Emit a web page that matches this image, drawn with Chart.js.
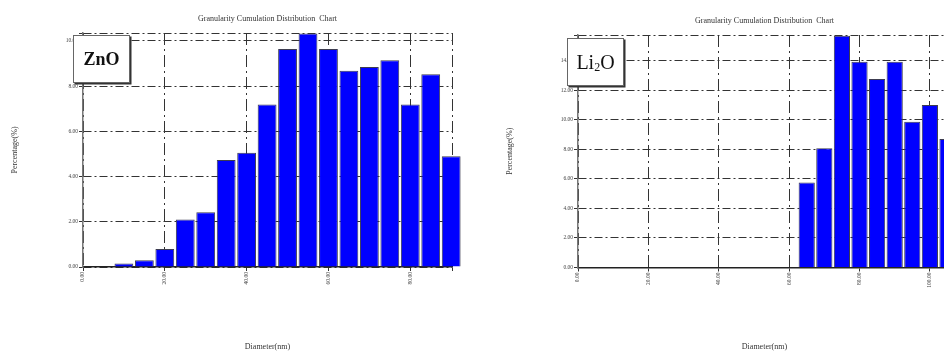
<!DOCTYPE html>
<html>
<head>
<meta charset="utf-8">
<script src="https://cdn.jsdelivr.net/npm/chart.js@4.4.1/dist/chart.umd.min.js"></script>
<style>
  html, body { margin: 0; padding: 0; background: #fff; }
  body { width: 944px; height: 352px; position: relative; overflow: hidden; }
  canvas { position: absolute; top: 0; }
  #znoChart { left: 0; }
  #li2oChart { left: 472px; }
  .tag {
    position: absolute; background: #fff; border: 1px solid #666;
    box-shadow: 1.5px 1.5px 0 #333; box-sizing: border-box;
    width: 57px; height: 48px; line-height: 46px; text-align: center;
    font-family: "Liberation Serif", serif; color: #111; z-index: 2;
  }
  .tag sub { font-size: 60%; vertical-align: -2px; line-height: 0; }
</style>
</head>
<body>
<canvas id="znoChart" width="472" height="352"></canvas>
<canvas id="li2oChart" width="520" height="352"></canvas>
<div class="tag" style="left:73px; top:35px; font-size:18px; font-weight:bold;">ZnO</div>
<div class="tag" style="left:567px; top:38px; font-size:20px;">Li<sub>2</sub>O</div>

<script>
// --- dados ---
const znoDiameter = [10, 15, 20, 25, 30, 35, 40, 45, 50, 55, 60, 65, 70, 75, 80, 85, 90];
const znoPercent = [0.15, 0.30, 0.80, 2.10, 2.42, 4.73, 5.05, 7.19, 9.64, 10.33, 9.64, 8.68, 8.85, 9.15, 7.19, 8.52, 4.90];
const znoXTicks = [0, 20, 40, 60, 80];
const znoYTicks = [0, 2, 4, 6, 8, 10];

const li2oDiameter = [65, 70, 75, 80, 85, 90, 95, 100, 105];
const li2oPercent = [5.75, 8.08, 15.70, 13.94, 12.77, 13.94, 9.88, 11.01, 8.71];
const li2oXTicks = [0, 20, 40, 60, 80, 100];
const li2oYTicks = [0, 2, 4, 6, 8, 10, 12, 14];

const serif = 'Liberation Serif';

function makeChart(id, xs, ys, xTicks, yTicks, cfg) {
  const ctx = document.getElementById(id).getContext('2d');
  const tickList = (list, max) => (scale) => {
    scale.ticks = list.concat([max]).map(v => ({ value: v }));
  };
  const tickLabel = (list) => (value) => list.includes(value) ? value.toFixed(2) : '';

  return new Chart(ctx, {
    type: 'bar',
    data: {
      datasets: [{
        data: xs.map((x, i) => ({ x: x, y: ys[i] })),
        backgroundColor: '#0000ff',
        borderColor: '#3c3c50',
        borderWidth: 1,
        barPercentage: 0.92,
        categoryPercentage: 1,
        clip: false
      }]
    },
    options: {
      responsive: false,
      animation: false,
      layout: { padding: { top: 8, left: 0, right: cfg.padRight, bottom: 0 } },
      plugins: {
        legend: { display: false },
        tooltip: { enabled: false },
        title: {
          display: true,
          text: 'Granularity Cumulation Distribution  Chart',
          fullSize: false,
          color: '#333',
          font: { family: serif, size: 8, weight: 'normal' },
          padding: { top: cfg.titleTop, bottom: cfg.titleBottom }
        }
      },
      scales: {
        x: {
          type: 'linear',
          offset: false,
          min: 0,
          max: cfg.xMax,
          afterBuildTicks: tickList(xTicks, cfg.xMax),
          afterFit: (scale) => { scale.height = cfg.xHeight; },
          grid: { offset: false, color: '#333', lineWidth: 1, tickLength: 4, tickColor: '#333' },
          border: { color: '#222', width: 1.5, dash: [12, 4, 2, 4] },
          ticks: {
            autoSkip: false, minRotation: 90, maxRotation: 90, padding: 1,
            color: '#444', font: { family: serif, size: 5.5 },
            callback: tickLabel(xTicks)
          },
          title: {
            display: true, text: 'Diameter(nm)', color: '#333',
            font: { family: serif, size: 8 }, padding: { top: 0, bottom: 0 }
          }
        },
        y: {
          min: 0,
          max: cfg.yMax,
          afterBuildTicks: tickList(yTicks, cfg.yMax),
          afterFit: (scale) => { scale.width = cfg.yWidth; },
          grid: { color: '#333', lineWidth: 1, tickLength: 4, tickColor: '#333' },
          border: { color: '#777', width: 1.5, dash: [8, 3, 2, 3] },
          ticks: {
            autoSkip: false, padding: 1, color: '#444',
            font: { family: serif, size: 5.5 },
            callback: tickLabel(yTicks)
          },
          title: {
            display: true, text: 'Percentage(%)', color: '#333',
            font: { family: serif, size: 8 }, padding: { top: cfg.yTitlePad, bottom: 0 }
          }
        }
      }
    }
  });
}

makeChart('znoChart', znoDiameter, znoPercent, znoXTicks, znoYTicks, {
  xMax: 90.2, yMax: 10.35, yWidth: 83, xHeight: 85, padRight: 20,
  titleTop: 6, titleBottom: 9.4, yTitlePad: 10
});

makeChart('li2oChart', li2oDiameter, li2oPercent, li2oXTicks, li2oYTicks, {
  xMax: 106, yMax: 15.75, yWidth: 106, xHeight: 84.5, padRight: 41,
  titleTop: 8, titleBottom: 9.4, yTitlePad: 33
});
</script>
</body>
</html>
